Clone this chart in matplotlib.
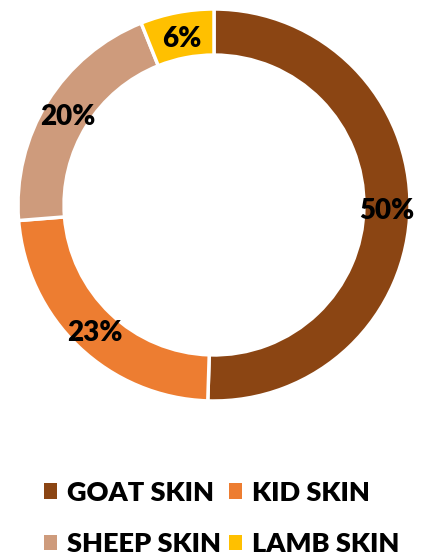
import matplotlib
matplotlib.use("Agg")
import matplotlib.pyplot as plt
from matplotlib.patches import Patch

plt.rcParams["font.family"] = ["Lato", "DejaVu Sans"]

# 皮革原料构成
categories = ["GOAT SKIN", "KID SKIN", "SHEEP SKIN", "LAMB SKIN"]
shares = [50, 23, 20, 6]
colors = ["#8B4513", "#ED7D31", "#CE9B7C", "#FFC000"]

W, H = 424, 559
fig = plt.figure(figsize=(W / 100, H / 100), dpi=100)
# 环形图区域：中心 (214, 205)，外半径 196 px
cx, cy, r = 214, 205, 196
ax = fig.add_axes([(cx - r) / W, (H - cy - r) / H, 2 * r / W, 2 * r / H])

pct_iter = iter(shares)
wedges, _, autotexts = ax.pie(
    shares, colors=colors, startangle=90, counterclock=False,
    autopct=lambda p: f"{next(pct_iter)}%", pctdistance=0.88,
    wedgeprops=dict(width=0.235, edgecolor="white", linewidth=2.5),
    textprops=dict(fontsize=20, fontweight="heavy", color="black"))
for t in autotexts:
    x, y = t.get_position()
    t.set_position((x, y - 0.015))
ax.set_xlim(-1, 1)
ax.set_ylim(-1, 1)
ax.set_aspect("equal")

# 图例按行排列：GOAT / KID，SHEEP / LAMB
order = [0, 2, 1, 3]
handles = [Patch(facecolor=colors[i], edgecolor="none", label=categories[i]) for i in order]
fig.legend(handles=handles, ncol=2, loc="upper left",
           bbox_to_anchor=(30 / W, 1 - 467 / H), frameon=False,
           prop=dict(size=19.5, weight="heavy"),
           handlelength=0.5, handleheight=0.5, handletextpad=0.36,
           columnspacing=0.3, labelspacing=1.02, borderpad=0)

fig.savefig("out.png", dpi=100)
